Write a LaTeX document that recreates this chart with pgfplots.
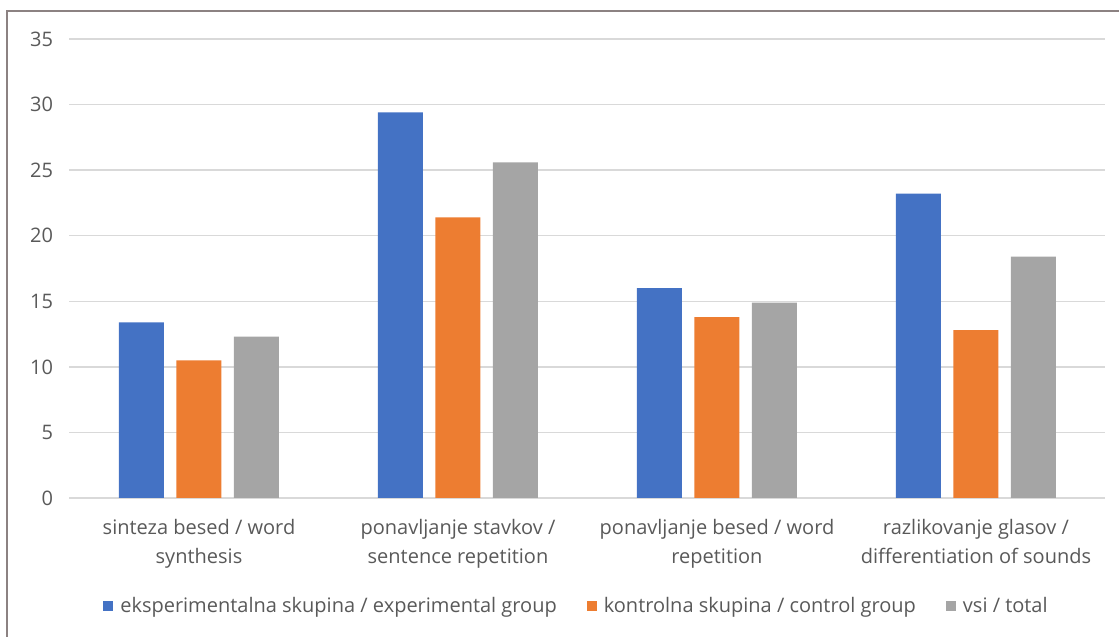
\documentclass[border=0pt]{standalone}
\usepackage{fontspec}
\setmainfont{Open Sans}
\usepackage{pgfplots}
\pgfplotsset{compat=1.18}
\definecolor{cblue}{HTML}{4472C4}
\definecolor{corange}{HTML}{ED7D31}
\definecolor{cgray}{HTML}{A5A5A5}
\definecolor{txt}{HTML}{595959}
\definecolor{gridc}{HTML}{D9D9D9}
\definecolor{framec}{HTML}{8C8282}
\begin{document}
\begin{tikzpicture}
\path[use as bounding box] (0pt,0pt) rectangle (1119pt,637pt);
\draw[framec, line width=2pt] (7pt,0pt) -- (7pt,626pt) -- (1119pt,626pt);
\begin{axis}[
  at={(69.5pt,139pt)}, anchor=south west,
  scale only axis, width=1036pt, height=459pt,
  xmin=-0.5, xmax=3.5, ymin=0, ymax=35,
  ytick={0,5,...,35},
  xtick={0,1,2,3},
  xticklabels={{sinteza besed / word\\synthesis},
               {ponavljanje stavkov /\\sentence repetition},
               {ponavljanje besed / word\\repetition},
               {razlikovanje glasov /\\differentiation of sounds}},
  ymajorgrids, grid style={gridc, line width=1.3pt},
  axis line style={draw=none},
  major tick length=0pt,
  tick style={draw=none},
  /pgf/number format/assume math mode=true,
  ticklabel style={font=\fontsize{20}{29}\selectfont, text=txt},
  xticklabel style={align=center, yshift=-18pt},
  yticklabel style={xshift=-13pt},
  ybar=12.5pt, bar width=45pt,
  legend style={at={(0.4894,-0.2353)}, anchor=center, legend columns=3,
    draw=none, fill=none, font=\fontsize{20}{24}\selectfont, text=txt,
    /tikz/every even column/.append style={column sep=28pt}},
  legend image code/.code={\fill[#1] (0pt,-5pt) rectangle (10pt,5pt);
    \path[draw=none, fill=none] (0pt,0pt) -- (15pt,0pt);},
]
\addplot[fill=cblue, draw=none] coordinates {(0,13.4) (1,29.4) (2,16.0) (3,23.2)};
\addplot[fill=corange, draw=none] coordinates {(0,10.5) (1,21.4) (2,13.8) (3,12.8)};
\addplot[fill=cgray, draw=none] coordinates {(0,12.3) (1,25.6) (2,14.9) (3,18.4)};
\legend{eksperimentalna skupina / experimental group,
        kontrolna skupina / control group,
        vsi / total}
\end{axis}
\end{tikzpicture}
\end{document}
